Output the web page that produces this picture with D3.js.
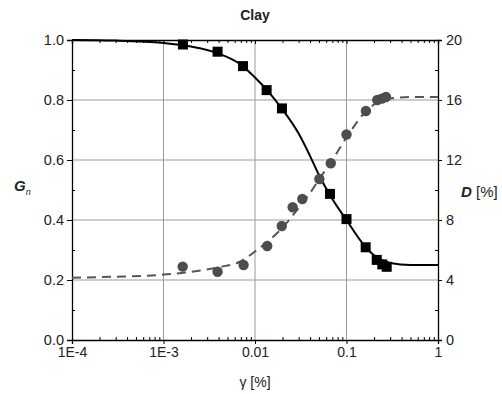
<!DOCTYPE html>
<html>
<head>
<meta charset="utf-8">
<script src="https://cdn.jsdelivr.net/npm/d3@7"></script>
<style>
  body { margin: 0; background: #fff; }
  text { font-family: "Liberation Sans", Arial, sans-serif; fill: #222; }
</style>
</head>
<body>
<svg id="chart" width="502" height="394"></svg>
<script>
// measured points - shear modulus ratio (squares)
const gStrain = [0.00163, 0.0039, 0.0074, 0.0134, 0.0197, 0.066, 0.1, 0.162, 0.214, 0.246, 0.275];
const gValues = [0.985, 0.961, 0.913, 0.833, 0.772, 0.487, 0.403, 0.309, 0.267, 0.252, 0.244];

// measured points - damping (circles)
const dStrain = [0.00162, 0.0039, 0.0075, 0.0136, 0.0196, 0.0258, 0.0329, 0.0505, 0.0673, 0.1, 0.163, 0.217, 0.243, 0.27];
const dValues = [4.89, 4.55, 5.0, 6.27, 7.6, 8.85, 9.4, 10.73, 11.78, 13.7, 15.27, 16.0, 16.09, 16.2];

// fitted curves
const fitStrain = [1e-4, 3e-4, 1e-3, 2e-3, 4e-3, 7e-3, 0.01, 0.014, 0.02, 0.03, 0.04, 0.05, 0.07, 0.1, 0.15, 0.2, 0.3, 0.5, 1];
const gFit = [1.0, 0.998, 0.99, 0.978, 0.955, 0.918, 0.875, 0.828, 0.768, 0.688, 0.613, 0.55, 0.47, 0.40, 0.322, 0.282, 0.257, 0.25, 0.25];
const dFit = [4.15, 4.22, 4.36, 4.55, 4.85, 5.25, 5.9, 6.6, 7.5, 8.8, 9.8, 10.7, 12.0, 13.5, 15.0, 15.7, 16.1, 16.2, 16.2];

const xTicks = [1e-4, 1e-3, 0.01, 0.1, 1];
const xTickLabels = ["1E-4", "1E-3", "0.01", "0.1", "1"];
const gTicks = [0, 0.2, 0.4, 0.6, 0.8, 1.0];
const dTicks = [0, 4, 8, 12, 16, 20];

const margin = { top: 40, right: 64, bottom: 54, left: 72 };
const svg = d3.select("#chart");
const width = 502 - margin.left - margin.right;
const height = 394 - margin.top - margin.bottom;

const x = d3.scaleLog().domain([1e-4, 1]).range([0, width]);
const yG = d3.scaleLinear().domain([0, 1]).range([height, 0]);
const yD = d3.scaleLinear().domain([0, 20]).range([height, 0]);

const g = svg.append("g").attr("transform", `translate(${margin.left},${margin.top})`);

// grid
const grid = g.append("g").attr("stroke", "#9a9a9a").attr("stroke-width", 1);
xTicks.slice(1, -1).forEach(t => {
    grid.append("line").attr("x1", x(t)).attr("x2", x(t)).attr("y1", 0).attr("y2", height);
});
gTicks.slice(1, -1).forEach(t => {
    grid.append("line").attr("x1", 0).attr("x2", width).attr("y1", yG(t)).attr("y2", yG(t));
});

// minor tick values for the log axis
const minorX = [];
for (let e = -4; e < 0; e++) {
    for (let m = 2; m <= 9; m++) minorX.push(m * Math.pow(10, e));
}

// bottom axis
const xAxis = g.append("g").attr("transform", `translate(0,${height})`)
    .call(d3.axisBottom(x).tickValues(xTicks).tickFormat((d, i) => xTickLabels[i]).tickSize(4).tickPadding(3));
xAxis.selectAll("text").attr("font-size", 14);
g.append("g").attr("transform", `translate(0,${height})`)
    .call(d3.axisTop(x).tickValues(minorX).tickFormat("").tickSize(3))
    .select(".domain").remove();

// top axis (ticks only)
g.append("g").call(d3.axisBottom(x).tickValues(xTicks).tickFormat("").tickSize(4));
g.append("g").call(d3.axisBottom(x).tickValues(minorX).tickFormat("").tickSize(3)).select(".domain").remove();

// left axis
const left = g.append("g")
    .call(d3.axisLeft(yG).tickValues(gTicks).tickFormat(d3.format(".1f")).tickSize(5).tickPadding(3));
left.selectAll("text").attr("font-size", 14.5);
g.append("g").call(d3.axisRight(yG).tickValues([0.1, 0.3, 0.5, 0.7, 0.9]).tickFormat("").tickSize(3))
    .select(".domain").remove();

// right axis
const right = g.append("g").attr("transform", `translate(${width},0)`)
    .call(d3.axisRight(yD).tickValues(dTicks).tickSize(4).tickPadding(4));
right.selectAll("text").attr("font-size", 14.5);
g.append("g").attr("transform", `translate(${width},0)`)
    .call(d3.axisLeft(yD).tickValues([2, 6, 10, 14, 18]).tickFormat("").tickSize(3))
    .select(".domain").remove();

g.selectAll(".domain").attr("stroke", "#000").attr("stroke-width", 1.3);

// fitted lines
const gLine = d3.line().x((d, i) => x(fitStrain[i])).y(d => yG(d)).curve(d3.curveMonotoneX);
const dLine = d3.line().x((d, i) => x(fitStrain[i])).y(d => yD(d)).curve(d3.curveMonotoneX);

g.append("path").attr("d", dLine(dFit)).attr("fill", "none")
    .attr("stroke", "#555").attr("stroke-width", 2).attr("stroke-dasharray", "9,6");
g.append("path").attr("d", gLine(gFit)).attr("fill", "none")
    .attr("stroke", "#000").attr("stroke-width", 2);

// markers
g.selectAll("circle.d").data(dValues).enter().append("circle")
    .attr("class", "d")
    .attr("cx", (d, i) => x(dStrain[i]))
    .attr("cy", d => yD(d))
    .attr("r", 5.2)
    .attr("fill", "#4d4d4d");

g.selectAll("rect.gn").data(gValues).enter().append("rect")
    .attr("class", "gn")
    .attr("x", (d, i) => x(gStrain[i]) - 5)
    .attr("y", d => yG(d) - 5)
    .attr("width", 10)
    .attr("height", 10)
    .attr("fill", "#000");

// titles
svg.append("text").attr("x", margin.left + width / 2).attr("y", 20)
    .attr("text-anchor", "middle").attr("font-size", 14).attr("font-weight", "bold").text("Clay");

const gl = svg.append("text").attr("x", 14).attr("y", 191).attr("font-size", 15);
gl.append("tspan").attr("font-weight", "bold").attr("font-style", "italic").text("G");
gl.append("tspan").attr("font-style", "italic").attr("font-size", 9).attr("dy", 4).text("n");

const dl = svg.append("text").attr("x", 461).attr("y", 197).attr("font-size", 15);
dl.append("tspan").attr("font-weight", "bold").attr("font-style", "italic").text("D");
dl.append("tspan").text(" [%]");

svg.append("text").attr("x", margin.left + width / 2).attr("y", 387)
    .attr("text-anchor", "middle").attr("font-size", 14).text("γ [%]");
</script>
</body>
</html>
